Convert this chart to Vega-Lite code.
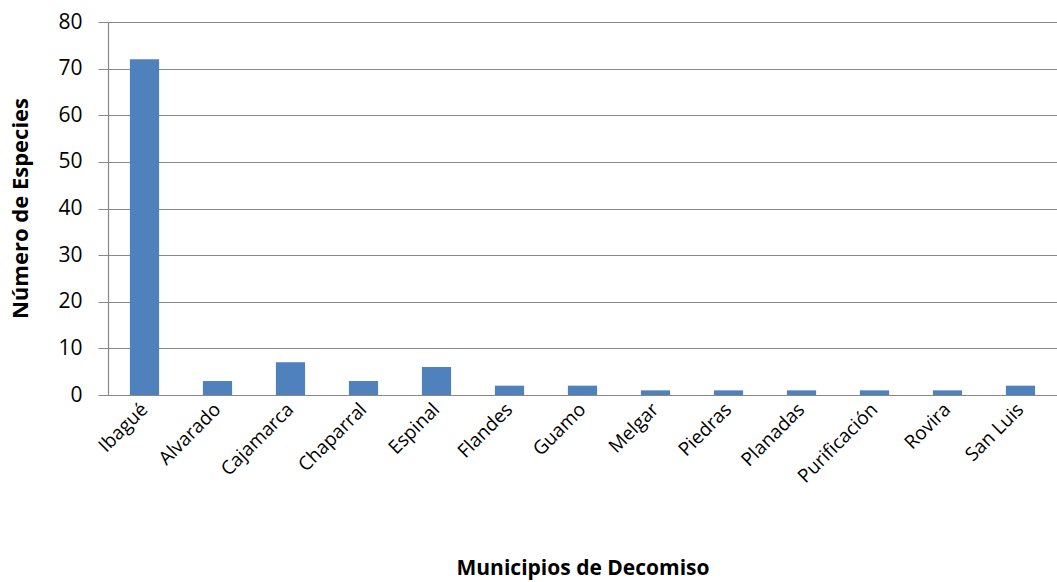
{
  "$schema": "https://vega.github.io/schema/vega-lite/v6.json",
  "width": 949,
  "height": 373,
  "autosize": {"type": "none"},
  "padding": {"left": 108, "top": 22, "right": 0, "bottom": 187},
  "background": "white",
  "config": {"view": {"stroke": null}, "font": "Open Sans"},
  "data": {"values": [
    {"municipio": "Ibagué", "especies": 72},
    {"municipio": "Alvarado", "especies": 3},
    {"municipio": "Cajamarca", "especies": 7},
    {"municipio": "Chaparral", "especies": 3},
    {"municipio": "Espinal", "especies": 6},
    {"municipio": "Flandes", "especies": 2},
    {"municipio": "Guamo", "especies": 2},
    {"municipio": "Melgar", "especies": 1},
    {"municipio": "Piedras", "especies": 1},
    {"municipio": "Planadas", "especies": 1},
    {"municipio": "Purificación", "especies": 1},
    {"municipio": "Rovira", "especies": 1},
    {"municipio": "San Luis", "especies": 2}
  ]},
  "mark": {"type": "bar", "color": "#4F81BD"},
  "encoding": {
    "x": {
      "field": "municipio", "type": "nominal", "sort": null,
      "scale": {"paddingInner": 0.6, "paddingOuter": 0.3},
      "axis": {
        "title": "Municipios de Decomiso",
        "titleFont": "Open Sans", "titleFontSize": 21, "titleFontWeight": "bold", "titleColor": "#000",
        "titleY": 162, "titleBaseline": "top",
        "labelAngle": -45, "labelAlign": "right", "labelBaseline": "middle",
        "labelFontSize": 19, "labelColor": "#000", "labelPadding": 11,
        "ticks": false, "domainColor": "#888", "domainWidth": 1.2, "grid": false
      }
    },
    "y": {
      "field": "especies", "type": "quantitative",
      "scale": {"domain": [0, 80]},
      "axis": {
        "title": "Número de Especies",
        "titleFont": "Open Sans", "titleFontSize": 22, "titleFontWeight": "bold", "titleColor": "#000",
        "titleX": -88, "titleY": 186, "titleAngle": -90, "titleBaseline": "middle", "titleAlign": "center",
        "values": [0, 10, 20, 30, 40, 50, 60, 70, 80],
        "labelFontSize": 21, "labelColor": "#000", "labelPadding": 16,
        "tickSize": 10, "tickColor": "#888", "domainColor": "#888", "domainWidth": 1.2,
        "grid": true, "gridColor": "#888", "gridWidth": 1.2
      }
    }
  }
}
